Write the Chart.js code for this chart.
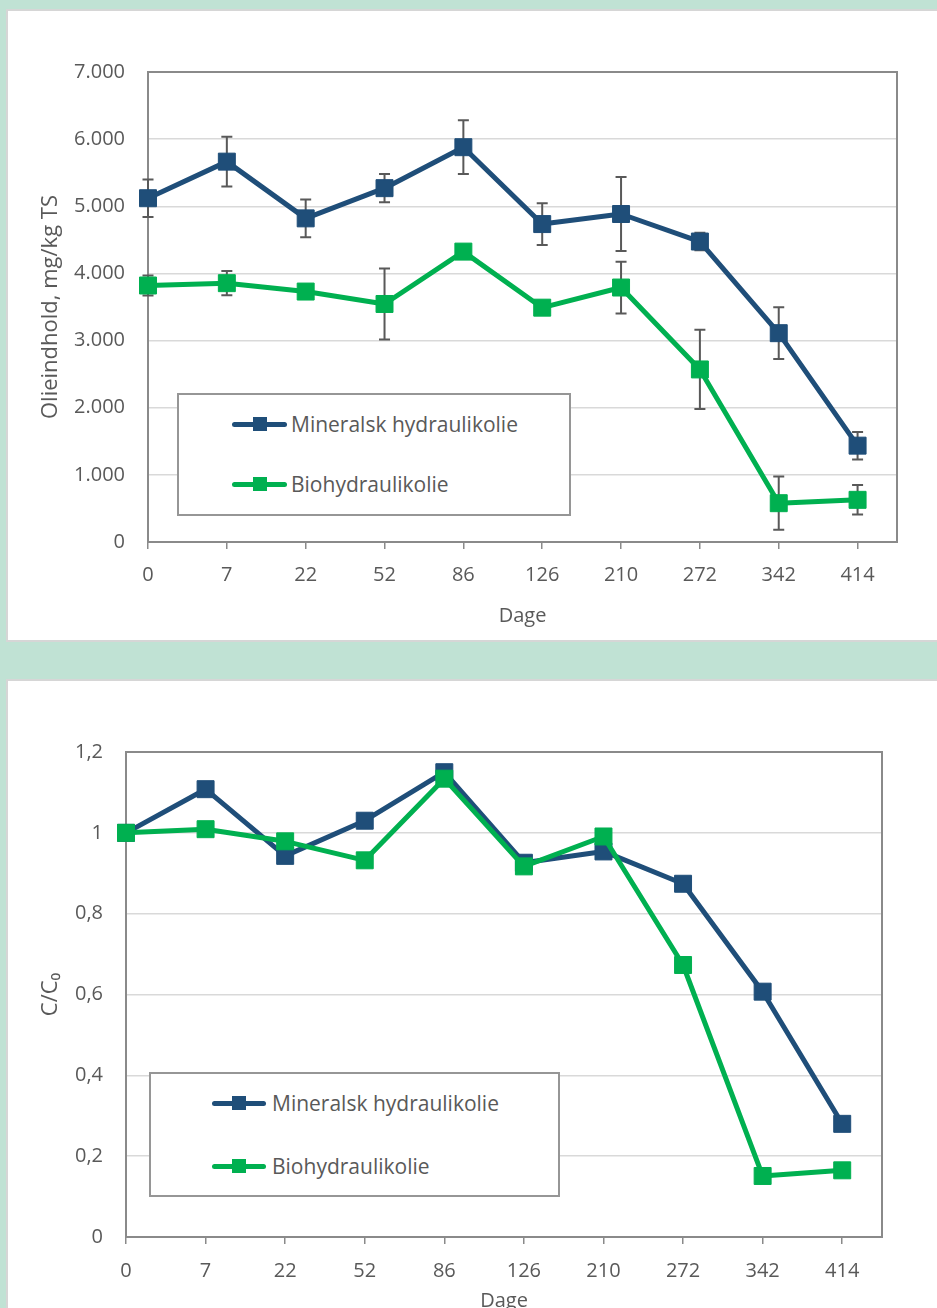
<!DOCTYPE html>
<html><head><meta charset="utf-8">
<script src="https://cdn.jsdelivr.net/npm/chart.js@4"></script>
<style>
html,body{margin:0;padding:0;width:937px;height:1308px;overflow:hidden;background:#c0e2d4;font-family:'Open Sans',sans-serif;}
.panel{position:absolute;background:#fff;border:2px solid #d6d6d6;border-right:none;}
#p1{left:6px;top:9px;width:929px;height:629px;}
#p2{left:6px;top:679px;width:929px;height:700px;}
canvas{position:absolute;left:0;}
#c1{top:0;}
#c2{top:680px;}
.legend{position:absolute;border:2px solid #969696;background:#fff;box-sizing:border-box;}
.row{position:absolute;left:0;height:0;}
.sample{position:absolute;height:5px;border-radius:3px;top:-2.5px;}
.mark{position:absolute;width:14px;height:14px;top:-7px;}
.txt{position:absolute;top:-15px;font-size:21px;line-height:30px;color:#595959;white-space:nowrap;}
</style>
</head><body>
<div class="panel" id="p1"></div>
<div class="panel" id="p2"></div>
<canvas id="c1" width="937" height="628"></canvas>
<canvas id="c2" width="937" height="633"></canvas>
<div class="legend" id="lg1" style="left:177px;top:393px;width:394px;height:123px;"></div>
<div class="legend" id="lg2" style="left:149px;top:1072px;width:411px;height:125px;"></div>
<script>
// ---- data ----
const categories = ['0','7','22','52','86','126','210','272','342','414'];
const seriesNames = ['Mineralsk hydraulikolie','Biohydraulikolie'];
const seriesColors = ['#1f4e79','#00b050'];
// top chart: oil content, mg/kg TS
const mineralOil = [5120, 5665, 4820, 5270, 5880, 4735, 4885, 4475, 3110, 1435];
const mineralErr = [280, 370, 280, 210, 400, 310, 550, 130, 385, 205];
const bioOil     = [3820, 3855, 3730, 3545, 4325, 3490, 3790, 2570, 578, 628];
const bioErr     = [150, 180, 50, 530, 40, 40, 385, 590, 397, 220];
// bottom chart: C/C0
const mineralRatio = [1.0, 1.108, 0.943, 1.030, 1.150, 0.926, 0.954, 0.874, 0.607, 0.280];
const bioRatio     = [1.0, 1.009, 0.979, 0.932, 1.134, 0.917, 0.991, 0.673, 0.151, 0.165];
const yTicksTop    = ['0','1.000','2.000','3.000','4.000','5.000','6.000','7.000'];
const yTicksBottom = ['0','0,2','0,4','0,6','0,8','1','1,2'];
const xTitle = 'Dage';
const yTitleTop = 'Olieindhold, mg/kg TS';
const yTitleBottom = 'C/C\u2080';

Chart.defaults.font.family = "'Open Sans', 'DejaVu Sans', sans-serif";
Chart.defaults.color = '#595959';

const toXY = arr => arr.map((v,i)=>({x:i, y:v}));

const errorBars = {
  id:'errorBars',
  beforeDatasetsDraw(chart){
    const ctx = chart.ctx, ys = chart.scales.y, xs = chart.scales.x;
    chart.data.datasets.forEach(ds=>{
      if(!ds.errors) return;
      ctx.save();
      ctx.strokeStyle = '#595959'; ctx.lineWidth = 2;
      ds.data.forEach((p,i)=>{
        const e = ds.errors[i];
        const x = xs.getPixelForValue(p.x);
        const y1 = ys.getPixelForValue(p.y + e), y2 = ys.getPixelForValue(p.y - e);
        ctx.beginPath();
        ctx.moveTo(x,y1); ctx.lineTo(x,y2);
        ctx.moveTo(x-5.5,y1); ctx.lineTo(x+5.5,y1);
        ctx.moveTo(x-5.5,y2); ctx.lineTo(x+5.5,y2);
        ctx.stroke();
      });
      ctx.restore();
    });
  }
};
const frame = {
  id:'frame',
  beforeDatasetsDraw(chart){
    const {ctx, chartArea:a} = chart;
    ctx.save(); ctx.strokeStyle='#8a8a8a'; ctx.lineWidth=2;
    ctx.strokeRect(a.left, a.top, a.right-a.left, a.bottom-a.top);
    ctx.restore();
  }
};

function makeChart(id, mineral, bio, mErr, bErr, yMax, yStep, yLabels, yTitle, leftW, padRight, xHeight, xTickPad){
  const ds = (name, data, color, err, order) => ({
    label:name, data:data, borderColor:color, backgroundColor:color,
    borderWidth:5, borderJoinStyle:'round', borderCapStyle:'round',
    pointStyle:'rect', pointRadius:12, pointHoverRadius:12, pointBorderWidth:1,
    pointBorderColor:color, pointBackgroundColor:color, tension:0, clip:false,
    errors:err, order:order
  });
  return new Chart(document.getElementById(id), {
    type:'line',
    data:{datasets:[
      ds(seriesNames[0], toXY(mineral), seriesColors[0], mErr, 1),
      ds(seriesNames[1], toXY(bio), seriesColors[1], bErr, 0)
    ]},
    options:{
      responsive:false, animation:false, events:[],
      layout:{padding:{top:72, right:padRight, left:0, bottom:0}},
      plugins:{legend:{display:false}, tooltip:{enabled:false}},
      scales:{
        x:{type:'linear', min:0, max:9.5,
          afterFit:s=>{s.height = xHeight;},
          ticks:{stepSize:1, includeBounds:false, autoSkip:false, maxRotation:0,
            padding:xTickPad, font:{size:20}, color:'#595959',
            callback:v=> Number.isInteger(v) ? categories[v] : ''},
          grid:{drawOnChartArea:false, drawTicks:true, tickLength:7, color:'#8a8a8a', lineWidth:1.5},
          border:{display:true, color:'#8a8a8a', width:2},
          title:{display:true, text:xTitle, font:{size:20}, color:'#595959', padding:{top:0,bottom:0}}
        },
        y:{min:0, max:yMax,
          afterFit:s=>{s.width = leftW;},
          ticks:{stepSize:yStep, padding:23, font:{size:20}, color:'#595959',
            callback:(v,i)=> yLabels[i]},
          grid:{color:'#d9d9d9', lineWidth:1.5, drawTicks:false},
          border:{display:true, color:'#8a8a8a', width:2},
          title:{display:true, text:yTitle, font:{size:22}, color:'#595959', padding:{top:38,bottom:0}}
        }
      }
    },
    plugins:[frame, errorBars]
  });
}

makeChart('c1', mineralOil, bioOil, mineralErr, bioErr, 7000, 1000, yTicksTop, yTitleTop, 148, 40, 628-542, 14);
makeChart('c2', mineralRatio, bioRatio, null, null, 1.2, 0.2, yTicksBottom, yTitleBottom, 126, 55, 633-557, 15);

function buildLegend(id, rows, lineX, lineW, textX){
  const el = document.getElementById(id);
  rows.forEach((top,i)=>{
    const r = document.createElement('div'); r.className='row'; r.style.top = top+'px';
    const s = document.createElement('div'); s.className='sample';
    s.style.left=lineX+'px'; s.style.width=lineW+'px'; s.style.background=seriesColors[i];
    const m = document.createElement('div'); m.className='mark';
    m.style.left=(lineX+lineW/2-7)+'px'; m.style.background=seriesColors[i];
    const t = document.createElement('div'); t.className='txt'; t.style.left=textX+'px';
    t.textContent = seriesNames[i];
    r.appendChild(s); r.appendChild(m); r.appendChild(t); el.appendChild(r);
  });
}
buildLegend('lg1', [29, 89], 53, 55, 112);
buildLegend('lg2', [29, 92], 61, 54, 121);
</script>
</body></html>
